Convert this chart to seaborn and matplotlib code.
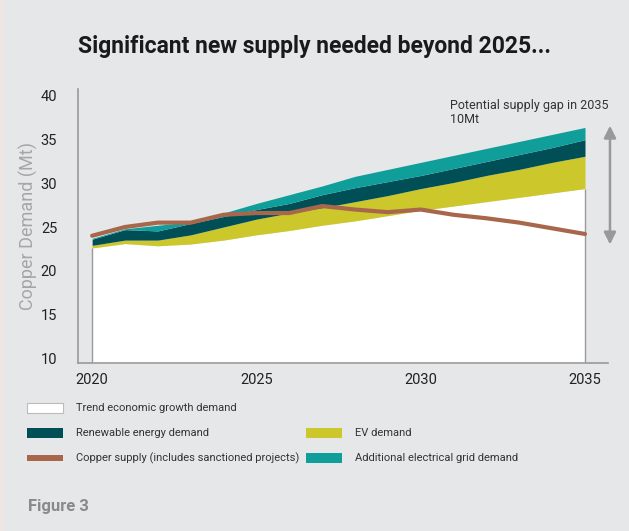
import numpy as np
import matplotlib
matplotlib.use("Agg")
import matplotlib.pyplot as plt
import seaborn as sns
import pandas as pd
from matplotlib.patches import Rectangle

years = list(range(2020, 2036))
trend_demand = [22.6, 23.1, 22.85, 23.05, 23.5, 24.1, 24.6, 25.2, 25.7, 26.3, 26.9, 27.4, 27.9, 28.4, 28.9, 29.4]
ev_demand = [0.3, 0.4, 0.65, 1.05, 1.5, 1.8, 2.0, 2.0, 2.2, 2.3, 2.5, 2.7, 3.0, 3.2, 3.5, 3.7]
renewable_demand = [0.7, 1.2, 1.05, 1.3, 1.2, 1.1, 1.1, 1.5, 1.6, 1.6, 1.5, 1.6, 1.6, 1.7, 1.7, 1.9]
grid_demand = [0.1, 0.1, 0.65, 0.2, 0.4, 0.7, 1.0, 1.0, 1.3, 1.4, 1.5, 1.5, 1.5, 1.5, 1.5, 1.4]
copper_supply = [24.0, 25.0, 25.5, 25.5, 26.4, 26.6, 26.6, 27.4, 27.0, 26.7, 27.0, 26.4, 26.0, 25.5, 24.85, 24.2]
yticks = [10, 15, 20, 25, 30, 35, 40]
xticks = [2020, 2025, 2030, 2035]

BG = "#E6E7E9"
C_WHITE = "#FFFFFF"
C_EV = "#CCC72A"
C_REN = "#004F57"
C_GRID = "#109E9B"
C_CU = "#A8674A"

sns.set_theme(style="white")
plt.rcParams['font.family'] = ['Roboto', 'DejaVu Sans']

fig = plt.figure(figsize=(6.29, 5.31), dpi=100, facecolor=BG)
fig.patches.append(Rectangle((0, 0), 3/629, 1, transform=fig.transFigure,
                             facecolor="#EEE6E3", edgecolor="none"))
ax = fig.add_axes([78/629, 1-363/531, (608-78)/629, (363-89)/531])
ax.set_facecolor(BG)

x = np.array(years)
t = np.array(trend_demand)
e = t + np.array(ev_demand)
r = e + np.array(renewable_demand)
g = r + np.array(grid_demand)

ax.fill_between(x, 9.0, t, color=C_WHITE, lw=0, zorder=1)
ax.fill_between(x, t, e, color=C_EV, lw=0, zorder=1)
ax.fill_between(x, e, r, color=C_REN, lw=0, zorder=1)
ax.fill_between(x, r, g, color=C_GRID, lw=0, zorder=1)
ax.vlines([x[0], x[-1]], 9.0, [t[0], t[-1]], color="#9a9a9a", lw=1, zorder=2)

df = pd.DataFrame({"year": years, "supply": copper_supply})
sns.lineplot(data=df, x="year", y="supply", ax=ax, color=C_CU, lw=3.0, zorder=3)

ax.set_xlim(2019.57, 2035.7)
ax.set_ylim(9.43, 40.8)
ax.set_xticks(xticks)
ax.set_yticks(yticks)
ax.tick_params(axis='both', length=0, labelsize=10.5, colors="#222222")
ax.tick_params(axis='y', pad=15)
ax.tick_params(axis='x', pad=7)
for s in ["top", "right"]:
    ax.spines[s].set_visible(False)
for s in ["left", "bottom"]:
    ax.spines[s].set_color("#9a9a9a")
    ax.spines[s].set_linewidth(1.2)
ax.set_xlabel("")
ax.set_ylabel("Copper Demand (Mt)", fontsize=13, color="#A6A6A6", labelpad=2)

# gap arrow
ax.annotate("", xy=(2035.76, 23.0), xytext=(2035.76, 36.6),
            arrowprops=dict(arrowstyle="<|-|>", color="#999999", lw=1.8,
                            mutation_scale=18, shrinkA=0, shrinkB=0),
            annotation_clip=False, zorder=4)
ax.text(2030.9, 39.6, "Potential supply gap in 2035\n10Mt", fontsize=9,
        color="#333333", va="top", ha="left", linespacing=1.05)

fig.text(0.5, 1-47/531, "Significant new supply needed beyond 2025...",
         ha="center", va="center", fontsize=16.5, fontweight="bold", color="#1a1a1a")

# legend
rows = [408, 433, 458]
items = [
    (27, rows[0], C_WHITE, "Trend economic growth demand", True),
    (27, rows[1], C_REN, "Renewable energy demand", False),
    (27, rows[2], C_CU, "Copper supply (includes sanctioned projects)", False),
    (306, rows[1], C_EV, "EV demand", False),
    (306, rows[2], C_GRID, "Additional electrical grid demand", False),
]
for px, py, col, lab, edge in items:
    h = 6 if col == C_CU else 10
    rect = Rectangle((px/629, 1-(py+h/2)/531), 36/629, h/531, transform=fig.transFigure,
                     facecolor=col, edgecolor="#BBBBBB" if edge else "none", lw=0.8)
    fig.patches.append(rect)
    fig.text((px+49)/629, 1-py/531, lab, fontsize=8, va="center", ha="left",
             color="#333333")

fig.text(28/629, 1-506/531, "Figure 3", fontsize=12, fontweight="bold", color="#8A8A8A",
         va="center", ha="left")

fig.savefig("out.png", dpi=100, facecolor=BG)
